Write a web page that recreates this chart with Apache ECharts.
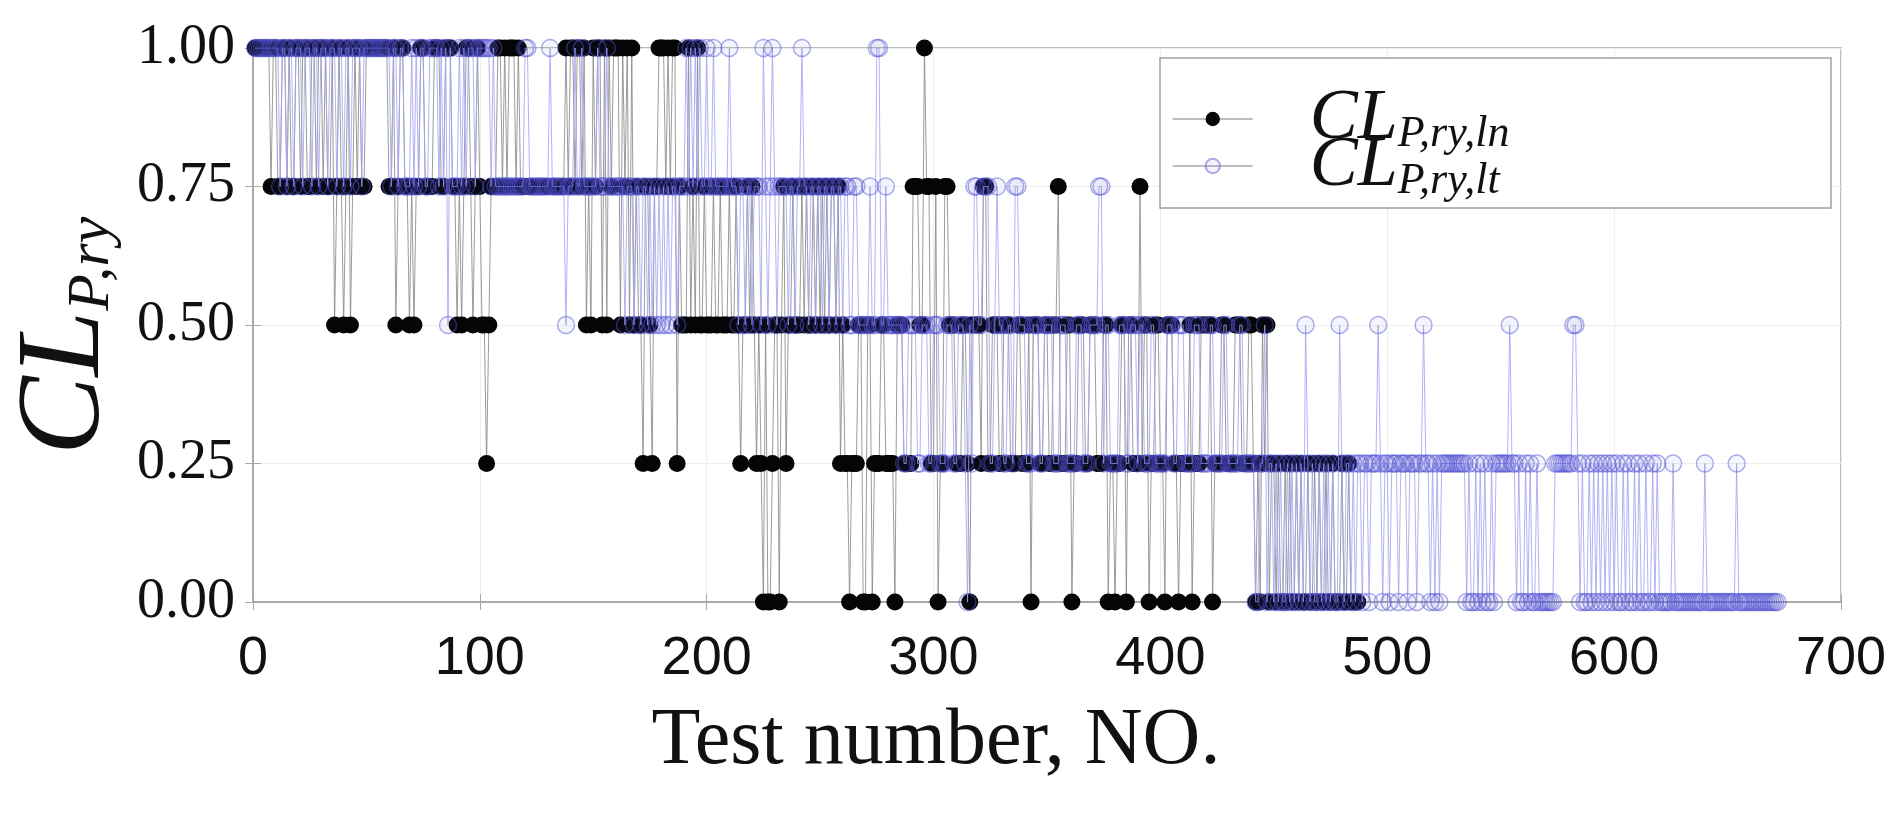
<!DOCTYPE html>
<html>
<head>
<meta charset="utf-8">
<script src="https://cdn.jsdelivr.net/npm/echarts@6/dist/echarts.min.js"></script>
<style>
html, body { margin: 0; padding: 0; background: #fff; }
#main { width: 1899px; height: 822px; }
</style>
</head>
<body>
<div id="main"></div>
<script>
// one digit per test (test 1, 2, 3 ...), digit = quarters: 4 -> 1.00, 3 -> 0.75 ... 0 -> 0.00
var lnQuarters = [
    '4444444344', '3344343344', '3443344344', '3433423432', '3423434334',
    '4444444443', '3423443323', '2334433334', '4433444332', '3234432343',
    '2212333443', '4344434333', '3333333333', '3333333434', '4344342324',
    '3442424344', '4243424232', '2133213344', '4343441322', '2423242232',
    '2232232223', '2232122323', '2121020012', '2023122322', '2323223232',
    '3232332312', '1101112200', '2201112211', '1102221111', '3332243311',
    '3011332221', '1122102222', '1331122211', '2221112211', '1202221122',
    '1122311122', '0112221122', '2111220110', '1122022111', '3122011221',
    '1022211011', '1120111222', '2201112211', '1122211122', '1010212011',
    '0100101001', '0100100101', '0010010001', '0010000'
];
var ltQuarters = [
    '4444444444', '4344344344', '4344434434', '4434443443', '4434444344',
    '4444444444', '3443443334', '3434433444', '4343424333', '4343444344',
    '4444343333', '3333333334', '4333333333', '4333333233', '3433433333',
    '3433343333', '3332333233', '2332323232', '3232332333', '4343434334',
    '3343333334', '3332332332', '3332432343', '2333323323', '3433233233',
    '2332332332', '3322332222', '2322442232', '2222221122', '2211222112',
    '2211122211', '2221021332', '2333112322', '1122133222', '1112221122',
    '2211122211', '1122211122', '2233122111', '1222112221', '2211122111',
    '1122211222', '1111222111', '1221111221', '1111221111', '1001120110',
    '1010010101', '0102101001', '0101010021', '0110101101', '1011121011',
    '0111011101', '1101121101', '0101111111', '1111010010', '1010010111',
    '1112110100', '1010010000', '0001111111', '1221010010', '1010101010',
    '1001010010', '1001001010', '0000010000', '0000000001', '0000000000',
    '0001000000', '0000000000', '00'
];
var xTicks = [0, 100, 200, 300, 400, 500, 600, 700];
var yTicks = [0, 0.25, 0.5, 0.75, 1];
var seriesNames = ['CLP,ry,ln', 'CLP,ry,lt'];

var toPoints = function (blocks) {
    var s = blocks.join('');
    var res = [];
    for (var i = 0; i < s.length; i++) {
        res.push([i + 1, Number(s.charAt(i)) / 4]);
    }
    return res;
};

var serif = 'Liberation Serif, Times New Roman, serif';
var sans = 'Liberation Sans Narrow, Arial Narrow, Liberation Sans, sans-serif';

var legendText = {
    rich: {
        a: { fontFamily: serif, fontStyle: 'italic', fontSize: 72, lineHeight: 46, color: '#111', padding: [0, 0, 0, 52] },
        b: { fontFamily: serif, fontStyle: 'italic', fontSize: 44, lineHeight: 6, color: '#111', padding: [30, 0, 0, 0] }
    }
};
var makeLegend = function (name, top) {
    return {
        z: 6,
        left: 1172,
        top: top,
        padding: 0,
        itemWidth: 80,
        itemHeight: 18,
        data: [name],
        lineStyle: { color: '#999', width: 1.5 },
        formatter: function (n) {
            return '{a|CL}{b|' + n.slice(2) + '}';
        },
        textStyle: legendText
    };
};

var chart = echarts.init(document.getElementById('main'));
chart.setOption({
    animation: false,
    backgroundColor: '#fff',
    grid: { left: 248, right: 58, top: 48, bottom: 220, show: true, borderColor: '#a8a8a8', borderWidth: 1.5 },
    graphic: [{
        type: 'rect',
        z: 3,
        shape: { x: 1160, y: 58, width: 671, height: 150 },
        style: { fill: '#fff', stroke: '#a0a0a0', lineWidth: 1.5 }
    }],
    legend: [makeLegend(seriesNames[0], 82), makeLegend(seriesNames[1], 129)],
    xAxis: [{
        type: 'value',
        min: xTicks[0],
        max: xTicks[xTicks.length - 1],
        interval: 100,
        name: 'Test number, NO.',
        nameLocation: 'middle',
        nameGap: 100,
        nameTextStyle: { fontFamily: serif, fontSize: 80, color: '#111', padding: [0, 222, 0, 0] },
        axisLine: { show: true, lineStyle: { color: '#a8a8a8', width: 1.5 } },
        axisTick: { show: true, inside: true, length: 8, lineStyle: { color: '#a8a8a8' } },
        axisLabel: { margin: 30, fontFamily: sans, fontSize: 54, color: '#111' },
        splitLine: { show: true, lineStyle: { color: '#eeeeee', width: 1 } }
    }, {
        type: 'value',
        position: 'top',
        min: xTicks[0],
        max: xTicks[xTicks.length - 1],
        interval: 100,
        axisLine: { show: true, lineStyle: { color: '#a8a8a8', width: 1.5 } },
        axisTick: { show: true, inside: true, length: 8, lineStyle: { color: '#a8a8a8' } },
        axisLabel: { show: false },
        splitLine: { show: false }
    }],
    yAxis: [{
        type: 'value',
        min: yTicks[0],
        max: yTicks[yTicks.length - 1],
        interval: 0.25,
        name: '{a|CL}{b|P,ry}',
        nameLocation: 'middle',
        nameRotate: 90,
        nameGap: 114,
        nameTextStyle: {
            padding: [0, 22, 0, 0],
            rich: {
                a: { fontFamily: serif, fontStyle: 'italic', fontSize: 118, lineHeight: 110, color: '#111' },
                b: { fontFamily: serif, fontStyle: 'italic', fontSize: 60, lineHeight: 56, color: '#111', verticalAlign: 'bottom' }
            }
        },
        axisLine: { show: true, lineStyle: { color: '#a8a8a8', width: 1.5 } },
        axisTick: { show: true, inside: true, length: 8, lineStyle: { color: '#a8a8a8' } },
        axisLabel: {
            margin: 18,
            fontFamily: serif,
            fontSize: 56,
            color: '#111',
            formatter: function (v) { return v.toFixed(2); }
        },
        splitLine: { show: true, lineStyle: { color: '#eeeeee', width: 1 } }
    }, {
        type: 'value',
        position: 'right',
        min: yTicks[0],
        max: yTicks[yTicks.length - 1],
        interval: 0.25,
        axisLine: { show: true, lineStyle: { color: '#a8a8a8', width: 1.5 } },
        axisTick: { show: true, inside: true, length: 8, lineStyle: { color: '#a8a8a8' } },
        axisLabel: { show: false },
        splitLine: { show: false }
    }],
    series: [{
        name: seriesNames[0],
        type: 'line',
        data: toPoints(lnQuarters),
        symbol: 'circle',
        symbolSize: 17,
        showAllSymbol: true,
        z: 2,
        lineStyle: { color: '#8a8a8a', width: 1, opacity: 0.85 },
        itemStyle: { color: '#050505' }
    }, {
        name: seriesNames[1],
        type: 'line',
        data: toPoints(ltQuarters),
        symbol: 'circle',
        symbolSize: 17,
        showAllSymbol: true,
        z: 3,
        lineStyle: { color: '#a4a4f2', width: 1, opacity: 0.85 },
        itemStyle: { color: 'rgba(60,60,200,0.06)', borderColor: 'rgba(85,85,215,0.5)', borderWidth: 1.4 }
    }]
});
window.onresize = chart.resize;
</script>
</body>
</html>
